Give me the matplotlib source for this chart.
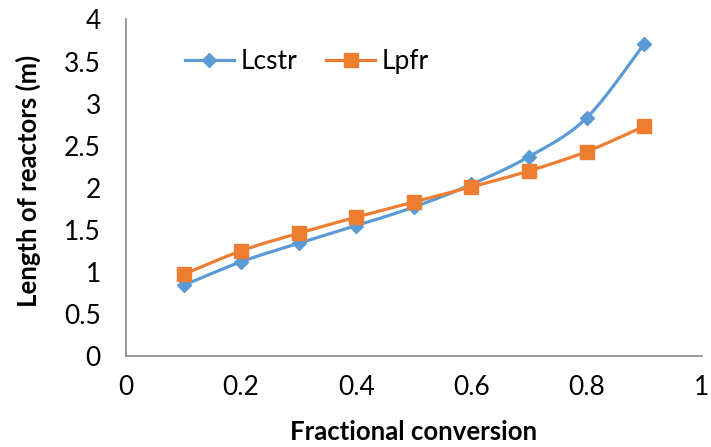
import numpy as np
import matplotlib
matplotlib.use("Agg")
import matplotlib.pyplot as plt

plt.rcParams['font.family'] = ['Lato', 'DejaVu Sans']

x_conv = [0.1, 0.2, 0.3, 0.4, 0.5, 0.6, 0.7, 0.8, 0.9]
l_cstr = [0.84, 1.12, 1.34, 1.55, 1.77, 2.04, 2.37, 2.83, 3.71]
l_pfr = [0.97, 1.25, 1.46, 1.65, 1.83, 2.01, 2.20, 2.43, 2.73]
x_ticks = [0, 0.2, 0.4, 0.6, 0.8, 1]
x_ticklabels = ['0', '0.2', '0.4', '0.6', '0.8', '1']
y_ticks = [0, 0.5, 1, 1.5, 2, 2.5, 3, 3.5, 4]
y_ticklabels = ['0', '0.5', '1', '1.5', '2', '2.5', '3', '3.5', '4']

BLUE = '#5B9BD5'
ORANGE = '#ED7D31'


def smooth(xs, ys, n=30):
    # Excel-like smoothed line: cubic Bezier with Catmull-Rom control points
    xs = np.asarray(xs, float)
    ys = np.asarray(ys, float)
    px = np.concatenate([[xs[0]], xs, [xs[-1]]])
    py = np.concatenate([[ys[0]], ys, [ys[-1]]])
    ox, oy = [], []
    t = np.linspace(0, 1, n)
    for i in range(1, len(px) - 2):
        p0 = np.array([px[i], py[i]])
        p3 = np.array([px[i + 1], py[i + 1]])
        c1 = p0 + (np.array([px[i + 1], py[i + 1]]) - np.array([px[i - 1], py[i - 1]])) / 6
        c2 = p3 - (np.array([px[i + 2], py[i + 2]]) - np.array([px[i], py[i]])) / 6
        b = ((1 - t) ** 3)[:, None] * p0 + (3 * (1 - t) ** 2 * t)[:, None] * c1 + \
            (3 * (1 - t) * t ** 2)[:, None] * c2 + (t ** 3)[:, None] * p3
        ox.extend(b[:, 0])
        oy.extend(b[:, 1])
    return np.array(ox), np.array(oy)


fig = plt.figure(figsize=(7.11, 4.47), dpi=100)
ax = fig.add_axes([0.1772, 0.2036, 0.8098, 0.7528])

for ys, color, marker, ms, label in [
    (l_cstr, BLUE, 'D', 7, 'Lcstr'),
    (l_pfr, ORANGE, 's', 10, 'Lpfr'),
]:
    sx, sy = smooth(x_conv, ys)
    ax.plot(sx, sy, color=color, lw=2.3, solid_capstyle='round', zorder=2)
    ax.plot(x_conv, ys, linestyle='none', marker=marker, ms=ms, color=color,
            markeredgecolor=color, zorder=3)
    ax.plot([], [], color=color, lw=2.3, marker=marker, ms=ms, label=label)

ax.set_xlim(0, 1)
ax.set_ylim(0, 4)
ax.set_xticks(x_ticks)
ax.set_xticklabels(x_ticklabels)
ax.set_yticks(y_ticks)
ax.set_yticklabels(y_ticklabels)
ax.tick_params(length=0, labelsize=19, colors='black')
ax.tick_params(axis='x', pad=14)
ax.tick_params(axis='y', pad=18)

for s in ['top', 'right']:
    ax.spines[s].set_visible(False)
for s in ['left', 'bottom']:
    ax.spines[s].set_color('#868686')
    ax.spines[s].set_linewidth(1.2)

ax.set_xlabel('Fractional conversion', fontsize=18.5, fontweight='bold', va='center')
ax.xaxis.set_label_coords(0.499, -0.226)
ax.set_ylabel('Length of reactors (m)', fontsize=18.5, fontweight='bold', va='center')
ax.yaxis.set_label_coords(-0.170, 0.52)

ax.legend(loc='center left', bbox_to_anchor=(0.102, 0.874), ncol=2, frameon=False,
          fontsize=19, handlelength=1.85, columnspacing=1.12, handletextpad=0.25,
          borderaxespad=0, borderpad=0)

fig.savefig('out.png', dpi=100)
